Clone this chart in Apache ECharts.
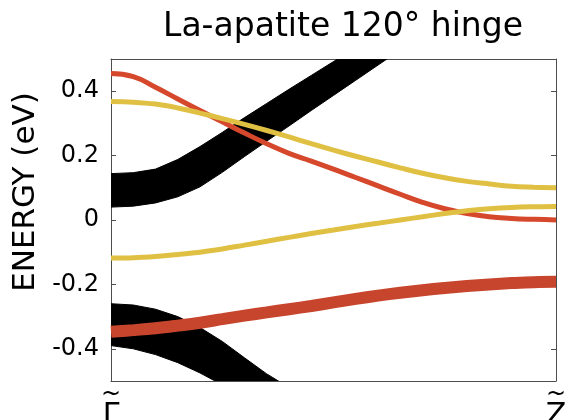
<!DOCTYPE html>
<html>
<head>
<meta charset="utf-8">
<script src="https://cdn.jsdelivr.net/npm/echarts@6.0.0/dist/echarts.min.js"></script>
<style>
html,body{margin:0;padding:0;background:#fff;}
#chart{width:569px;height:420px;}
</style>
</head>
<body>
<div id="chart"></div>
<script>
// k-path positions from Γ̃ (0) to Z̃ (1)
var kPoints = [0, 0.05, 0.10, 0.15, 0.20, 0.25, 0.30, 0.35, 0.40, 0.45, 0.50, 0.55, 0.60, 0.65, 0.70, 0.75, 0.80, 0.85, 0.90, 0.95, 1.00];
var kTickLabels = ['Γ', 'Z'];
var kTickValues = [0, 1];
var energyTicks = [-0.4, -0.2, 0, 0.2, 0.4];

// upper red band (eV)
var redUpper = [0.455, 0.445, 0.412, 0.376, 0.34, 0.305, 0.27, 0.237, 0.207, 0.183, 0.158, 0.132, 0.106, 0.08, 0.055, 0.035, 0.02, 0.01, 0.005, 0.002, 0.0];
// upper yellow band
var yellowUpper = [0.368, 0.366, 0.36, 0.348, 0.332, 0.315, 0.297, 0.278, 0.258, 0.237, 0.217, 0.198, 0.18, 0.162, 0.145, 0.131, 0.12, 0.112, 0.105, 0.102, 0.1];
// lower yellow band
var yellowLower = [-0.118, -0.117, -0.113, -0.107, -0.1, -0.09, -0.078, -0.066, -0.054, -0.042, -0.031, -0.02, -0.01, 0.0, 0.01, 0.02, 0.029, 0.035, 0.039, 0.041, 0.042];
// lower red (thick) band
var redLower = [-0.347, -0.342, -0.336, -0.328, -0.319, -0.308, -0.297, -0.287, -0.277, -0.267, -0.256, -0.245, -0.235, -0.226, -0.218, -0.211, -0.205, -0.2, -0.196, -0.193, -0.192];

// bulk conduction bands (black): edges of the bundle
var bulkUpK = [0, 0.05, 0.10, 0.15, 0.20, 0.25, 0.30, 0.35, 0.40, 0.45, 0.50, 0.55, 0.60, 0.65, 0.70];
var bulkUpTop = [0.144, 0.147, 0.158, 0.188, 0.228, 0.272, 0.318, 0.362, 0.406, 0.449, 0.492, 0.535, 0.578, 0.62, 0.66];
var bulkUpBottom = [0.04, 0.043, 0.053, 0.072, 0.103, 0.148, 0.197, 0.245, 0.292, 0.34, 0.387, 0.434, 0.481, 0.528, 0.575];

// bulk valence bands (black)
var bulkLoK = [0, 0.05, 0.10, 0.15, 0.20, 0.25, 0.30, 0.35, 0.40, 0.45];
var bulkLoTop = [-0.26, -0.264, -0.277, -0.3, -0.334, -0.377, -0.428, -0.478, -0.52, -0.565];
var bulkLoBottom = [-0.39, -0.4, -0.418, -0.443, -0.475, -0.512, -0.56, -0.61, -0.66, -0.71];

function pairs(xs, ys) { return xs.map(function (x, i) { return [x, ys[i]]; }); }

var FONT = 'DejaVu Sans';
var frameColor = '#4d4d4d';

function bandSeries(name, xs, top, bottom) {
  var rows = xs.map(function (x, i) { return [x, top[i], bottom[i]]; });
  return {
    name: name, type: 'custom', clip: true, silent: true, z: 1,
    encode: { x: 0, y: [1, 2] },
    data: rows,
    renderItem: function (params, api) {
      if (params.dataIndex !== 0) return null;
      var pts = [];
      for (var i = 0; i < rows.length; i++) pts.push(api.coord([rows[i][0], rows[i][1]]));
      for (var j = rows.length - 1; j >= 0; j--) pts.push(api.coord([rows[j][0], rows[j][2]]));
      return { type: 'polygon', shape: { points: pts }, style: { fill: '#000', stroke: '#000', lineWidth: 1 } };
    }
  };
}

var chart = echarts.init(document.getElementById('chart'), null, { renderer: 'canvas' });

var series = [
  bandSeries('bulkUp', bulkUpK, bulkUpTop, bulkUpBottom),
  bandSeries('bulkLo', bulkLoK, bulkLoTop, bulkLoBottom),
  { name: 'redLower', type: 'line', data: pairs(kPoints, redLower), symbol: 'none', smooth: 0.4,
    lineStyle: { width: 12, color: '#c8452d', cap: 'butt' }, z: 3 },
  { name: 'redUpper', type: 'line', data: pairs(kPoints, redUpper), symbol: 'none', smooth: 0.5,
    lineStyle: { width: 5, color: '#d5482c' }, z: 3 },
  { name: 'yellowUpper', type: 'line', data: pairs(kPoints, yellowUpper), symbol: 'none', smooth: 0.4,
    lineStyle: { width: 5, color: '#e0c043' }, z: 4 },
  { name: 'yellowLower', type: 'line', data: pairs(kPoints, yellowLower), symbol: 'none', smooth: 0.4,
    lineStyle: { width: 5, color: '#e0c043' }, z: 4 }
];

var option = {
  backgroundColor: '#ffffff',
  animation: false,
  title: {
    text: 'La-apatite 120° hinge',
    left: 343, top: 11, textAlign: 'center', padding: 0,
    textStyle: { fontFamily: FONT, fontSize: 33, fontWeight: 'normal', color: '#000' }
  },
  grid: { left: 111, right: 13, top: 59, bottom: 39, containLabel: false, outerBoundsMode: 'none' },
  xAxis: [
    {
      type: 'value', min: 0, max: 1, position: 'bottom',
      axisLine: { show: true, onZero: false, lineStyle: { color: frameColor, width: 1 } },
      axisTick: { show: false },
      splitLine: { show: false },
      axisLabel: {
        customValues: kTickValues, margin: 7,
        formatter: function (v) { return '{t|~}\n{l|' + (v === 0 ? kTickLabels[0] : kTickLabels[1]) + '}'; },
        rich: {
          t: { fontFamily: FONT, fontSize: 24, lineHeight: 13, color: '#000', align: 'center' },
          l: { fontFamily: FONT, fontSize: 30, lineHeight: 30, color: '#000', align: 'center' }
        },
        color: '#000'
      }
    },
    {
      type: 'value', min: 0, max: 1, position: 'top',
      axisLine: { show: true, onZero: false, lineStyle: { color: frameColor, width: 1 } },
      axisTick: { show: false }, axisLabel: { show: false }, splitLine: { show: false }
    }
  ],
  yAxis: [
    {
      type: 'value', min: -0.5, max: 0.5, position: 'left',
      name: 'ENERGY (eV)', nameLocation: 'middle', nameGap: 57, nameRotate: 90,
      nameTextStyle: { fontFamily: FONT, fontSize: 31, color: '#000', padding: [0, 0, 0, 56] },
      axisLine: { show: true, onZero: false, lineStyle: { color: frameColor, width: 1 } },
      axisTick: { show: true, inside: true, length: 5, customValues: energyTicks, lineStyle: { color: frameColor } },
      splitLine: { show: false },
      axisLabel: {
        customValues: energyTicks, margin: 12,
        formatter: function (v) { return Math.abs(v) < 1e-9 ? '0' : v.toFixed(1); },
        fontFamily: FONT, fontSize: 24, color: '#000'
      }
    },
    {
      type: 'value', min: -0.5, max: 0.5, position: 'right',
      axisLine: { show: true, onZero: false, lineStyle: { color: frameColor, width: 1 } },
      axisTick: { show: true, inside: true, length: 5, customValues: energyTicks, lineStyle: { color: frameColor } },
      axisLabel: { show: false }, splitLine: { show: false }
    }
  ],
  series: series
};

chart.setOption(option);
</script>
</body>
</html>
